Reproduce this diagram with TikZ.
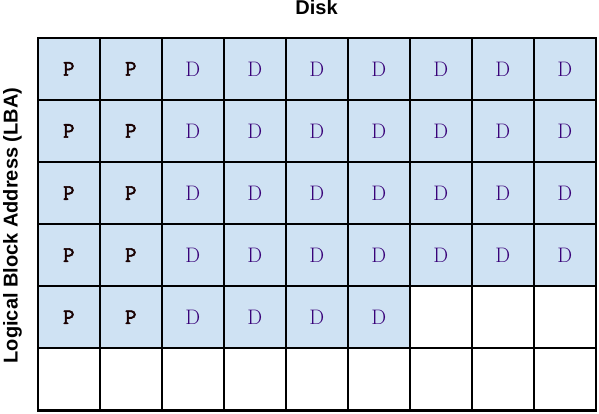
\documentclass[tikz,border=0pt]{standalone}
\usepackage{fontspec}
\newfontfamily\arialfont{Liberation Sans}
\newfontfamily\pfont[FakeBold=2.5]{Latin Modern Mono}
\definecolor{cellblue}{RGB}{207,226,243}
\definecolor{dpurple}{RGB}{55,0,120}
\begin{document}
\begin{tikzpicture}[x=1pt,y=-1pt,
  cellbox/.style={draw=black,line width=2.2pt,minimum width=62pt,minimum height=62.1pt,inner sep=0pt,outer sep=0pt,anchor=center},
  usedbox/.style={cellbox,fill=cellblue},
  ptext/.style={font=\pfont\fontsize{22}{22}\selectfont,text=black!90!red},
  dtext/.style={font=\rmfamily\fontsize{21}{21}\selectfont,text=dpurple},
  titletext/.style={font=\arialfont\bfseries\fontsize{20}{20}\selectfont}]
\useasboundingbox (0,0) rectangle (599,414);
\foreach \r in {1,...,6}{
  \foreach \c in {1,...,9}{
    \pgfmathtruncatemacro{\isused}{(\r<5) || (\r==5 && \c<7)}
    \ifnum\isused=1
      \ifnum\c<3
        \node[usedbox,ptext] (c-\r-\c) at ({37.8+62*(\c-0.5)},{37.8+62.1*(\r-0.5)}) {P};
      \else
        \node[usedbox,dtext] (c-\r-\c) at ({37.8+62*(\c-0.5)},{37.8+62.1*(\r-0.5)}) {D};
      \fi
    \else
      \node[cellbox] (c-\r-\c) at ({37.8+62*(\c-0.5)},{37.8+62.1*(\r-0.5)}) {};
    \fi
  }
}
\node[titletext,anchor=base] (title) at (316.5,14.5) {Disk};
\node[titletext,rotate=90,anchor=base] (lba) at (17.5,225.5) {Logical Block Address (LBA)};
\end{tikzpicture}
\end{document}
